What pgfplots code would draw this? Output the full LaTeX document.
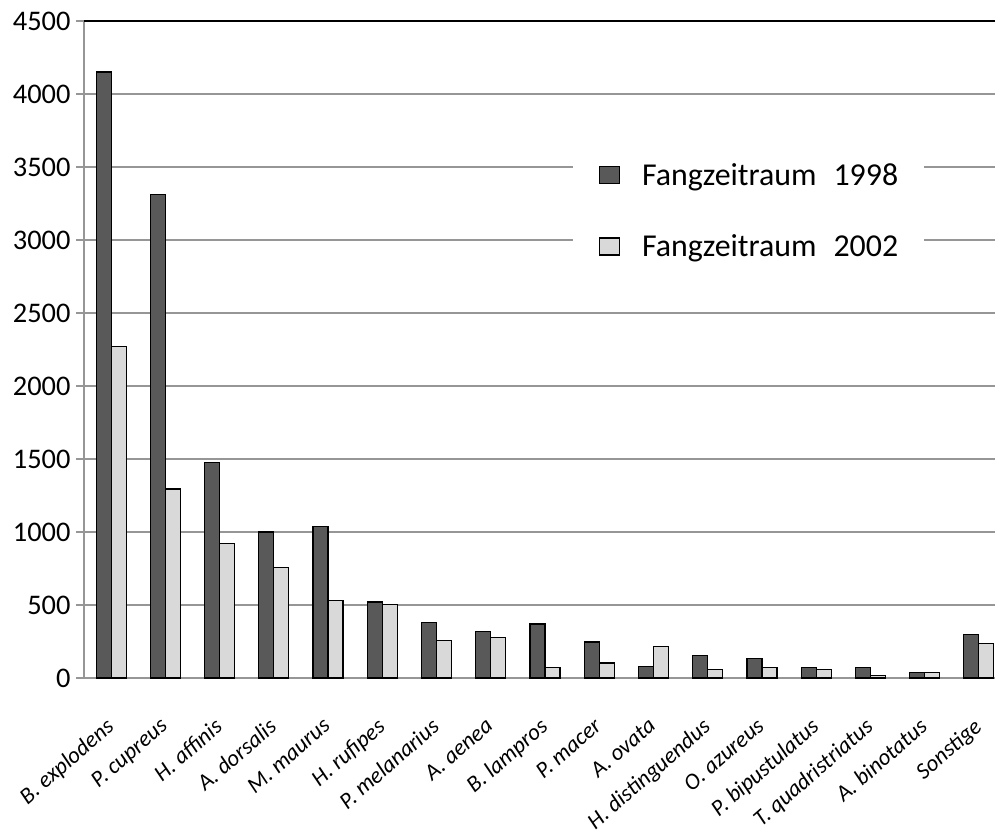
\documentclass[border=0pt]{standalone}
\usepackage{pgfplots}
\pgfplotsset{compat=1.18}
\usepackage{fontspec}
\setmainfont{Carlito}
\definecolor{dark}{RGB}{89,89,89}
\definecolor{light}{RGB}{217,217,217}
\definecolor{gridgray}{RGB}{150,150,150}
\begin{document}
\begin{tikzpicture}
\begin{axis}[
  scale only axis, width=922bp, height=657bp,
  xmin=-0.5, xmax=16.5, ymin=0, ymax=4500,
  ytick={0,500,...,4500},
  scaled y ticks=false,
  /pgf/number format/1000 sep={},
  /pgf/number format/assume math mode=true,
  ybar=0pt, bar width=15bp,
  axis lines*=left,
  axis line style={gridgray, line width=1.5bp},
  ymajorgrids, grid style={gridgray, line width=1.5bp},
  tick align=outside,
  major tick length=8bp,
  minor tick length=8bp,
  xtick={0,...,16},
  xtick style={draw=none},
  minor xtick={-0.5,0.5,...,16.5},
  tick style={gridgray, line width=1.5bp},
  yticklabel style={font=\fontsize{28.5}{32}\selectfont, anchor=east, xshift=-2bp},
  xticklabels={B. explodens, P. cupreus, H. affinis, A. dorsalis, M. maurus, H. rufipes, P. melanarius, A. aenea, B. lampros, P. macer, A. ovata, H. distinguendus, O. azureus, P. bipustulatus, T. quadristriatus, A. binotatus, Sonstige},
  xticklabel style={font=\fontsize{23}{27}\selectfont\itshape, rotate=41, anchor=north east, inner sep=0pt, xshift=-25bp, yshift=-19bp},
  legend style={at={(rel axis cs:0.53,0.808)}, anchor=north west, draw=none, fill=white,
    font=\fontsize{32}{36}\selectfont, row sep=44bp, inner xsep=26bp, inner ysep=14bp,
    nodes={inner xsep=0bp}},
  legend cell align=left,
  legend image code/.code={\draw[#1, line width=1.2bp] (0bp,-8.5bp) rectangle (20bp,8.5bp);
    \path (42bp,0bp);},
]
\addplot[fill=dark, draw=black, line width=1.2bp] coordinates {
 (0,4150) (1,3310) (2,1475) (3,1000) (4,1035) (5,520) (6,382) (7,320) (8,370)
 (9,247) (10,80) (11,155) (12,132) (13,71) (14,71) (15,39) (16,297)};
\addplot[fill=light, draw=black, line width=1.2bp] coordinates {
 (0,2270) (1,1295) (2,920) (3,755) (4,530) (5,505) (6,256) (7,279) (8,71)
 (9,103) (10,217) (11,60) (12,71) (13,60) (14,18) (15,39) (16,235)};
\legend{Fangzeitraum\hspace{17bp}1998, Fangzeitraum\hspace{17bp}2002}
\draw[black, line width=1.3bp] (rel axis cs:0,1) -- (rel axis cs:1,1);
\coordinate (O) at (rel axis cs:0,0);
\end{axis}
\pgfresetboundingbox
\path[use as bounding box] ([shift={(-84bp,-160bp)}]O) rectangle ([shift={(911bp,678bp)}]O);
\end{tikzpicture}
\end{document}
